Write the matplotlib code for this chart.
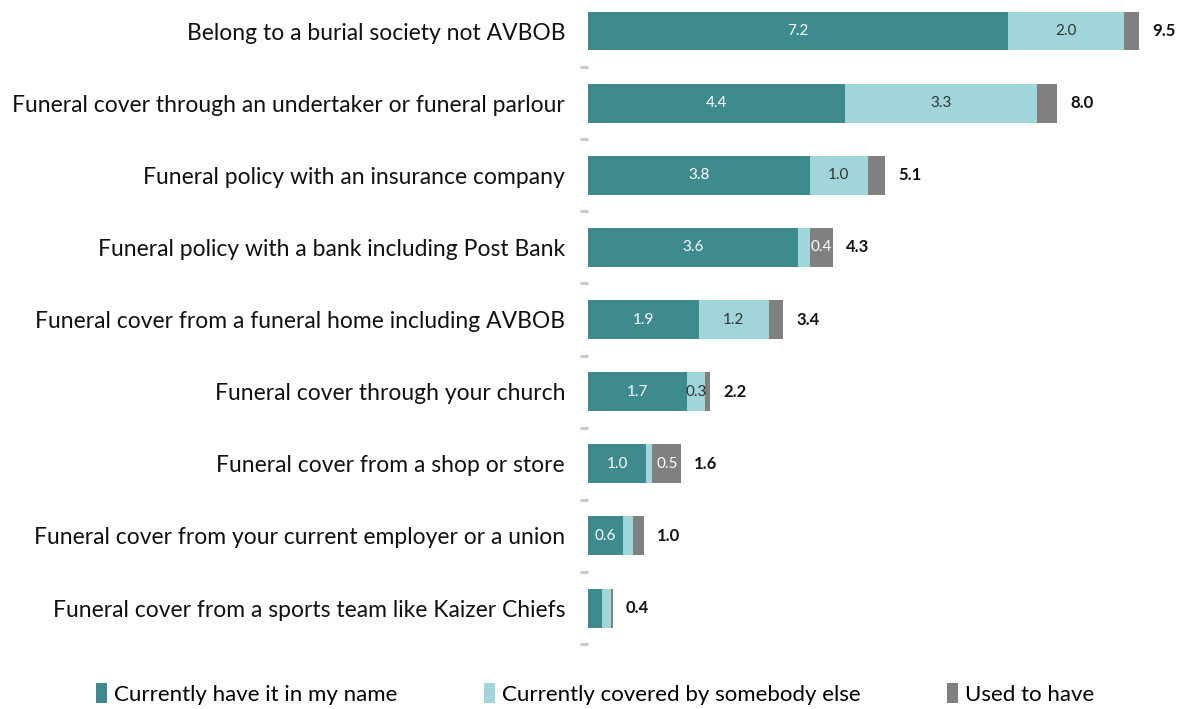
import matplotlib.pyplot as plt
import numpy as np

categories = [
    "Belong to a burial society not AVBOB",
    "Funeral cover through an undertaker or funeral parlour",
    "Funeral policy with an insurance company",
    "Funeral policy with a bank including Post Bank",
    "Funeral cover from a funeral home including AVBOB",
    "Funeral cover through your church",
    "Funeral cover from a shop or store",
    "Funeral cover from your current employer or a union",
    "Funeral cover from a sports team like Kaizer Chiefs",
]
have_own = [7.2, 4.4, 3.8, 3.6, 1.9, 1.7, 1.0, 0.6, 0.24]
covered_other = [2.0, 3.3, 1.0, 0.2, 1.2, 0.3, 0.1, 0.17, 0.15]
used_to = [0.25, 0.35, 0.3, 0.4, 0.25, 0.1, 0.5, 0.19, 0.04]
totals = [9.5, 8.0, 5.1, 4.3, 3.4, 2.2, 1.6, 1.0, 0.4]

# which segment values get printed inside the bars
show_have = [True] * 8 + [False]
show_cov = [True, True, True, False, True, True, False, False, False]
show_used = [False, False, False, True, False, False, True, False, False]

c_dark = "#3d8a8f"
c_light = "#a0d5d9"
c_grey = "#808080"

plt.rcParams["font.family"] = ["Lato", "DejaVu Sans"]

fig = plt.figure(figsize=(11.9, 7.09), dpi=100)
ax = fig.add_axes([588 / 1190, 1 - 660 / 709, 602 / 1190, 660 / 709])

y = np.arange(len(categories))
h = 0.54
have_own = np.array(have_own)
covered_other = np.array(covered_other)
used_to = np.array(used_to)

b1 = ax.barh(y, have_own, h, color=c_dark, label="Currently have it in my name")
b2 = ax.barh(y, covered_other, h, left=have_own, color=c_light,
             label="Currently covered by somebody else")
b3 = ax.barh(y, used_to, h, left=have_own + covered_other, color=c_grey,
             label="Used to have")

for i in range(len(categories)):
    if show_have[i]:
        ax.text(have_own[i] / 2, i, f"{have_own[i]:.1f}", ha="center",
                va="center", color="white", fontsize=11)
    if show_cov[i]:
        ax.text(have_own[i] + covered_other[i] / 2, i, f"{covered_other[i]:.1f}",
                ha="center", va="center", color="#333333", fontsize=11)
    if show_used[i]:
        ax.text(have_own[i] + covered_other[i] + used_to[i] / 2, i,
                f"{used_to[i]:.1f}", ha="center", va="center", color="white",
                fontsize=11)
    end = have_own[i] + covered_other[i] + used_to[i]
    ax.text(end + 0.22, i, f"{totals[i]:.1f}", ha="left", va="center",
            color="#111111", fontsize=12, fontweight="bold")

ax.set_xlim(0, 602 / 58.3)
ax.set_ylim(8.72, -0.43)
ax.set_yticks(y)
ax.set_yticklabels(categories, fontsize=16.5, color="#111111")
ax.tick_params(axis="y", which="major", length=0, pad=16.5)
ax.set_yticks(y + 0.5, minor=True)
ax.tick_params(axis="y", which="minor", length=6, width=2, color="#c8c8c8")
ax.set_xticks([])
for s in ax.spines.values():
    s.set_visible(False)

fig.legend(handles=[b1, b2, b3], loc="center", bbox_to_anchor=(0.5, 1 - 694 / 709),
           ncol=3, frameon=False, fontsize=16, handlelength=0.5,
           handleheight=1.0, handletextpad=0.3, columnspacing=3.9)

fig.savefig("out.png", dpi=100)
